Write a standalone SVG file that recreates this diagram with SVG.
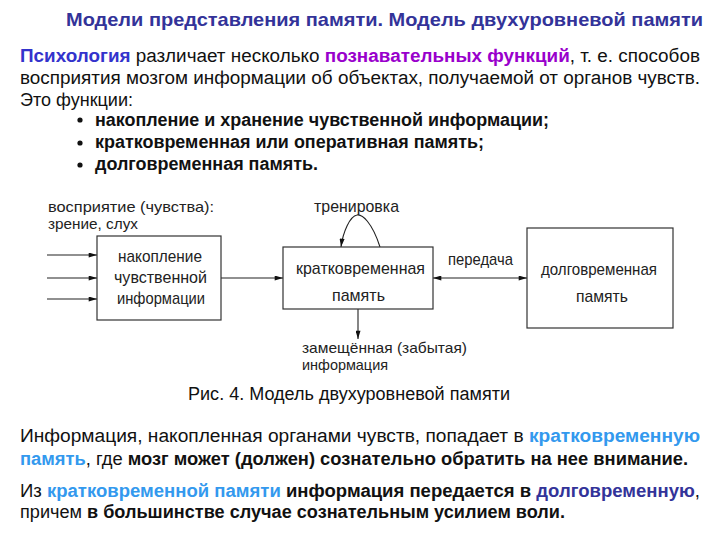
<svg xmlns="http://www.w3.org/2000/svg" width="720" height="540" viewBox="0 0 720 540">
<style>
.t{font-family:"Liberation Sans",Arial,sans-serif;font-size:18px;fill:#111}
.b{font-weight:bold}
.title{font-family:"Liberation Sans",Arial,sans-serif;font-size:19px;font-weight:bold;fill:#333399}
.d{font-family:"Liberation Sans",Arial,sans-serif;font-size:17px;fill:#222}
.s{font-size:15px}
.box{fill:#fff;stroke:#333;stroke-width:1.2}
.ln{fill:none;stroke:#222;stroke-width:1.1}
.c1{fill:#3333cc;font-weight:bold}
.c2{fill:#9900cc;font-weight:bold}
.c3{fill:#3399ee;font-weight:bold}
.c4{fill:#333399;font-weight:bold}
</style>
<defs>
<marker id="ah" viewBox="0 0 10 6" refX="10" refY="3" markerWidth="10" markerHeight="5" markerUnits="userSpaceOnUse" orient="auto-start-reverse">
<path d="M0,0 L10,3 L0,6 z" fill="#111"/>
</marker>
</defs>
<rect width="720" height="540" fill="#fff"/>
<text class="title" x="66" y="26" textLength="637" lengthAdjust="spacingAndGlyphs">Модели представления памяти. Модель двухуровневой памяти</text>
<text class="t" x="20" y="62" textLength="680" lengthAdjust="spacingAndGlyphs"><tspan class="c1">Психология</tspan> различает несколько <tspan class="c2">познавательных функций</tspan>, т. е. способов</text>
<text class="t" x="20" y="84" textLength="680" lengthAdjust="spacingAndGlyphs">восприятия мозгом информации об объектах, получаемой от органов чувств.</text>
<text class="t" x="20" y="106" textLength="113" lengthAdjust="spacingAndGlyphs">Это функции:</text>
<g class="t b">
<circle cx="80" cy="120" r="2.6" fill="#111"/>
<circle cx="80" cy="143" r="2.6" fill="#111"/>
<circle cx="80" cy="165" r="2.6" fill="#111"/>
<text x="95" y="126" textLength="454" lengthAdjust="spacingAndGlyphs">накопление и хранение чувственной информации;</text>
<text x="95" y="148" textLength="389" lengthAdjust="spacingAndGlyphs">кратковременная или оперативная память;</text>
<text x="95" y="170" textLength="223" lengthAdjust="spacingAndGlyphs">долговременная память.</text>
</g>
<g id="connectors">
<line class="ln" x1="47" y1="255" x2="97" y2="255" marker-end="url(#ah)"/>
<line class="ln" x1="47" y1="278" x2="97" y2="278" marker-end="url(#ah)"/>
<line class="ln" x1="47" y1="299" x2="97" y2="299" marker-end="url(#ah)"/>
<line class="ln" x1="221" y1="278" x2="283" y2="278" marker-end="url(#ah)"/>
<line class="ln" x1="433" y1="278" x2="527" y2="278" marker-start="url(#ah)" marker-end="url(#ah)"/>
<path class="ln" d="M380,247 C372,222 362,214 357,215 C350,216 343,232 341,247" marker-end="url(#ah)"/>
<line class="ln" x1="358" y1="309" x2="358" y2="339" marker-end="url(#ah)"/>
</g>
<g id="label-input">
<text class="d s" x="48" y="212" textLength="166" lengthAdjust="spacingAndGlyphs">восприятие (чувства):</text>
<text class="d s" x="48" y="229" textLength="90" lengthAdjust="spacingAndGlyphs">зрение, слух</text>
</g>
<g id="node-sensory">
<rect class="box" x="97" y="236" width="124" height="84"/>
<text class="d" x="118" y="262" textLength="84" lengthAdjust="spacingAndGlyphs">накопление</text>
<text class="d" x="114" y="283" textLength="93" lengthAdjust="spacingAndGlyphs">чувственной</text>
<text class="d" x="117" y="304" textLength="88" lengthAdjust="spacingAndGlyphs">информации</text>
</g>
<g id="node-short">
<rect class="box" x="283" y="247" width="150" height="62"/>
<text class="d" x="296" y="274" textLength="129" lengthAdjust="spacingAndGlyphs">кратковременная</text>
<text class="d" x="332" y="301" textLength="53" lengthAdjust="spacingAndGlyphs">память</text>
</g>
<g id="node-long">
<rect class="box" x="527" y="228" width="146" height="100"/>
<text class="d" x="541" y="275" textLength="116" lengthAdjust="spacingAndGlyphs">долговременная</text>
<text class="d" x="576" y="302" textLength="52" lengthAdjust="spacingAndGlyphs">память</text>
</g>
<g id="label-training">
<text class="d" x="314" y="212" textLength="85" lengthAdjust="spacingAndGlyphs">тренировка</text>
</g>
<g id="label-transfer">
<text class="d" x="448" y="265" textLength="65" lengthAdjust="spacingAndGlyphs">передача</text>
</g>
<g id="label-forgotten">
<text class="d s" x="302" y="353" textLength="165" lengthAdjust="spacingAndGlyphs">замещённая (забытая)</text>
<text class="d s" x="302" y="370" textLength="86" lengthAdjust="spacingAndGlyphs">информация</text>
</g>
<text class="t" x="188" y="400" textLength="322" lengthAdjust="spacingAndGlyphs">Рис. 4. Модель двухуровневой памяти</text>
<text class="t" x="20" y="442" textLength="680" lengthAdjust="spacingAndGlyphs">Информация, накопленная органами чувств, попадает в <tspan class="c3">кратковременную</tspan></text>
<text class="t" x="20" y="465" textLength="668" lengthAdjust="spacingAndGlyphs"><tspan class="c3">память</tspan>, где <tspan class="b">мозг может (должен) сознательно обратить на нее внимание.</tspan></text>
<text class="t" x="20" y="497" textLength="680" lengthAdjust="spacingAndGlyphs">Из <tspan class="c3">кратковременной памяти</tspan> <tspan class="b">информация передается в</tspan> <tspan class="c4">долговременную</tspan>,</text>
<text class="t" x="20" y="518" textLength="545" lengthAdjust="spacingAndGlyphs">причем <tspan class="b">в большинстве случае сознательным усилием воли.</tspan></text>
</svg>
